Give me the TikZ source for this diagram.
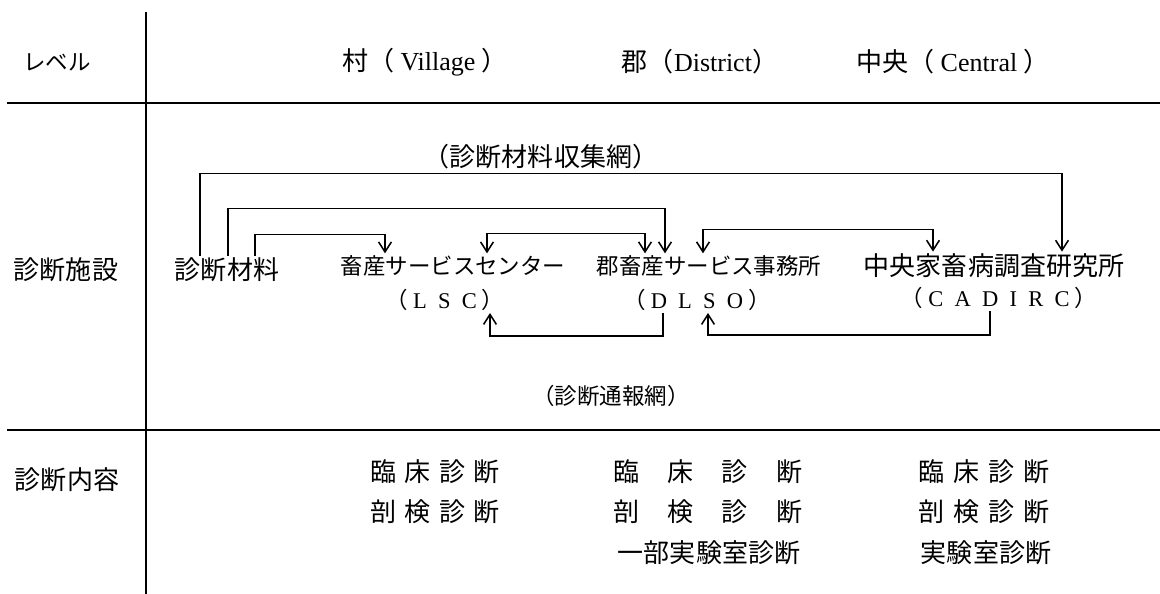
\documentclass[tikz,border=0pt]{standalone}
\usepackage{fontspec}
\setmainfont{Noto Sans CJK JP}
\newfontfamily\latinfont{Liberation Serif}
\usetikzlibrary{arrows.meta}

\begin{document}
\begin{tikzpicture}[
      every node/.style={font=\fontsize{18.5}{22}\selectfont, inner sep=0.05cm},
      smalltext/.style={font=\fontsize{16}{19}\selectfont},
      abbrev/.style={font=\fontsize{16}{19}\selectfont},
      rule/.style={line width=1pt},
      arr/.style={-{Straight Barb[length=2.5mm,width=3.2mm]}, line width=1.1pt},
      dblarr/.style={{Straight Barb[length=2.5mm,width=3.2mm]}-{Straight Barb[length=2.5mm,width=3.2mm]}, line width=1.1pt}
    ]
    \useasboundingbox (0,0) rectangle (29,14.85);

    % ===== Table rules =====
    \draw[rule] (3.65,14.55) -- (3.65,0);
    \draw[rule] (0.175,12.275) -- (29,12.275);
    \draw[rule] (0.175,4.1) -- (29,4.1);

    % ===== Header: levels =====
    \node[smalltext] (lvl) at (1.425,13.3) {レベル};
    \node (vil) at (10.625,13.3) {村（ {\latinfont Village} ）};
    \node (dis) at (17.5,13.3) {郡（{\latinfont District}）};
    \node (cen) at (23.825,13.3) {中央（ {\latinfont Central} ）};

    % ===== Middle: diagnostic facilities =====
    \node (fac) at (1.65,8.1) {診断施設};
    \node (mat) at (5.675,8.1) {診断材料};
    \node[smalltext] (lsc) at (11.325,8.2) {畜産サービスセンター};
    \node[smalltext] (dlso) at (17.725,8.2) {郡畜産サービス事務所};
    \node (cad) at (24.85,8.2) {中央家畜病調査研究所};
    \node[abbrev] (lscab) at (11.125,7.35) {（ {\latinfont L\ \ S\ \ C} ）};
    \node[abbrev] (dlsoab) at (17.425,7.35) {（ {\latinfont D\ \ L\ \ S\ \ O} ）};
    \node[abbrev] (cadab) at (24.975,7.4) {（ {\latinfont C\ \ A\ \ D\ \ I\ \ R\ \ C} ）};

    \node (collect) at (13.525,10.925) {（診断材料収集網）};
    \node[smalltext] (report) at (15.275,4.95) {（診断通報網）};

    % ===== Arrows: collection network =====
    \draw[arr] ([xshift=-0.675cm]mat.north) -- ++(0,2.05) -| ([xshift=1.7cm]cad.north);
    \draw[arr] ([xshift=0.025cm]mat.north) -- ++(0,1.175) -| ([xshift=-1.1cm]dlso.north);
    \draw[arr] ([xshift=0.7cm]mat.north) -- ++(0,0.525) -| ([xshift=-1.7cm]lsc.north);
    \draw[dblarr] ([xshift=0.85cm]lsc.north) -- ++(0,0.5) -| ([xshift=-1.6cm]dlso.north);
    \draw[dblarr] ([xshift=-0.15cm]dlso.north) -- ++(0,0.6) -| ([xshift=-1.525cm]cad.north);

    % ===== Arrows: reporting network =====
    \draw[arr] ([xshift=-0.85cm]dlsoab.south) -- ++(0,-0.575) -| ([xshift=1.125cm]lscab.south);
    \draw[arr] ([xshift=-0.225cm]cadab.south) -- ++(0,-0.6) -| ([xshift=0.275cm]dlsoab.south);

    % ===== Bottom: diagnostic contents =====
    \node (cont) at (1.675,2.85) {診断内容};
    \node (vil1) at (10.875,3.05) {\makebox[3.25cm][s]{臨\hfill 床\hfill 診\hfill 断}};
    \node (vil2) at (10.875,2.05) {\makebox[3.25cm][s]{剖\hfill 検\hfill 診\hfill 断}};
    \node (dis1) at (17.69,3.05) {\makebox[4.725cm][s]{臨\hfill 床\hfill 診\hfill 断}};
    \node (dis2) at (17.69,2.05) {\makebox[4.725cm][s]{剖\hfill 検\hfill 診\hfill 断}};
    \node (dis3) at (17.725,1.025) {一部実験室診断};
    \node (cen1) at (24.6,3.05) {\makebox[3.3cm][s]{臨\hfill 床\hfill 診\hfill 断}};
    \node (cen2) at (24.6,2.05) {\makebox[3.3cm][s]{剖\hfill 検\hfill 診\hfill 断}};
    \node (cen3) at (24.65,1.025) {実験室診断};
  \end{tikzpicture}
\end{document}
